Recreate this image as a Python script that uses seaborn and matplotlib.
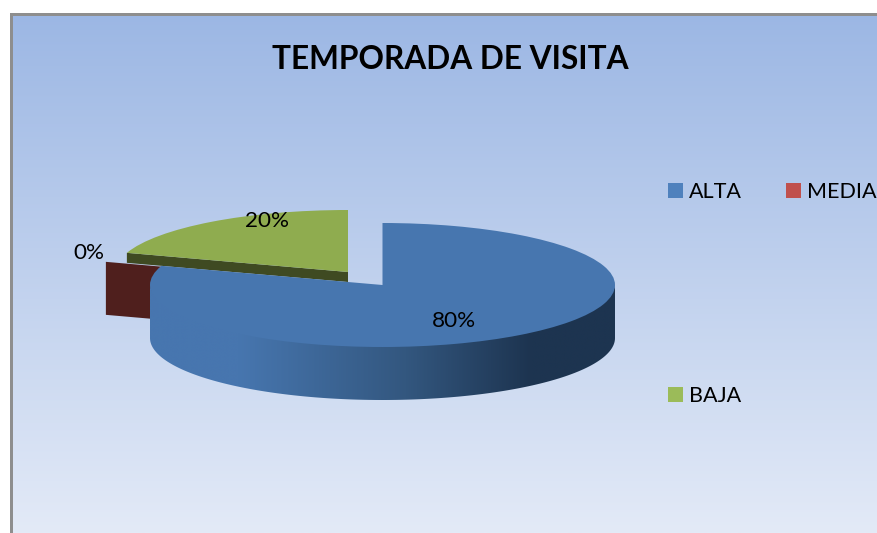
import numpy as np
import matplotlib
matplotlib.use("Agg")
import matplotlib.pyplot as plt
from matplotlib.colors import LinearSegmentedColormap
from matplotlib.patches import Patch, Polygon, Rectangle
import seaborn as sns

# ---- data ----
title = "TEMPORADA DE VISITA"
categories = ["ALTA", "MEDIA", "BAJA"]
values = [80, 0, 20]
legend_palette = ["#4F81BD", "#C0504D", "#9BBB59"]
top_colors = ["#4776AF", "#A5423F", "#8FAC4F"]
wall_colors = ["#4776AF", "#4F1F1D", "#3F4A22"]

sns.set_theme(style="white")
plt.rcParams["font.family"] = ["Lato", "DejaVu Sans"]

W, H = 877, 533
fig = plt.figure(figsize=(W / 100, H / 100), dpi=100, facecolor="white")

# chart-area gradient and frame
bg = fig.add_axes([10 / W, 0, (W - 10) / W, (H - 14) / H])
bg.imshow(np.linspace(0, 1, 256)[:, None], aspect="auto",
          cmap=LinearSegmentedColormap.from_list("bg", ["#9CB7E4", "#E3EAF7"]))
bg.axis("off")
fig.add_artist(Rectangle((10 / W, 0), 2.6 / W, (H - 13) / H, transform=fig.transFigure,
                         fc="#8E8E8E", ec="none"))
fig.add_artist(Rectangle((10 / W, (H - 15.5) / H), (W - 10) / W, 2.5 / H, transform=fig.transFigure,
                         fc="#8E8E8E", ec="none"))

# pie axes: one data unit = the ellipse radii, origin at the blue slice's apex
RX, RY, CX, CY = 232.5, 62.0, 382.5, 285.0
DEPTH_PX = 53.0
ax = fig.add_axes([0, 0, 1, 1], facecolor="none")


def px(x, y):
    return (x - CX) / RX, (CY - y) / RY


def end_angle():
    """Math angle of the boundary between ALTA and BAJA."""
    return np.deg2rad(90 - 360 * values[0] / sum(values))


def draw_slice(i, center, z):
    wedges, _ = ax.pie(values, colors=top_colors, startangle=90, counterclock=False,
                       center=center, radius=1, wedgeprops=dict(linewidth=0))
    for j, w in enumerate(wedges):
        if j == i:
            w.set_zorder(z)
        else:
            w.remove()


def radial_wall(i, center, depth_px, z):
    a = end_angle()
    d = depth_px / RY
    cx, cy = center
    ox, oy = cx + np.cos(a), cy + np.sin(a)
    ax.add_patch(Polygon([(ox, oy), (cx, cy), (cx, cy - d), (ox, oy - d)],
                         closed=True, fc=wall_colors[i], ec="none", zorder=z))


# MEDIA (0 %): only its exploded cut face shows
red_c = px(327, 281)
radial_wall(1, red_c, DEPTH_PX, 1)

# BAJA, exploded
green_c = px(348, 272)
radial_wall(2, green_c, 10, 2)
draw_slice(2, green_c, 3)

# ALTA outer wall with horizontal shading (starts slightly above the rim to hide the seam)
theta = np.linspace(0, -np.pi, 300)
upper = np.column_stack([np.cos(theta), np.sin(theta) + 0.03])
lower = np.column_stack([np.cos(theta), np.sin(theta)])[::-1] - [0, DEPTH_PX / RY]
wall = Polygon(np.vstack([upper, lower]), closed=True, fc="none", ec="none",
               transform=ax.transData, zorder=4)
ax.add_patch(wall)
shade = LinearSegmentedColormap.from_list(
    "wall", [(0, "#4776AF"), (0.19, "#4776AF"), (0.55, "#33577F"), (0.82, "#1D3450"), (1, "#1D3450")])
im = ax.imshow(np.linspace(0, 1, 512)[None, :], extent=(-1, 1, -2, 1), aspect="auto",
               cmap=shade, zorder=4, interpolation="bilinear")
im.set_clip_path(wall)
draw_slice(0, (0, 0), 5)

ax.set_aspect("auto")
ax.set_xlim(px(0, 0)[0], px(W, 0)[0])
ax.set_ylim(px(0, H)[1], px(0, 0)[1])
ax.axis("off")

# data labels
label_pos = [(454, 321), (89, 253), (267, 221)]
for v, (lx, ly) in zip(values, label_pos):
    x, y = px(lx, ly)
    ax.text(x, y, f"{v}%", ha="center", va="center", fontsize=16.2, color="black", zorder=10)

fig.text(450.5 / W, 1 - 59.5 / H, title, ha="center", va="center",
         fontsize=22.8, fontweight="bold", color="black")

# legends: first row holds two entries, the third sits lower
handles = [Patch(fc=c, ec="none", label=n) for c, n in zip(legend_palette, categories)]
leg_kw = dict(frameon=False, fontsize=15.5, handlelength=0.69, handleheight=0.69,
              handletextpad=0.28, borderpad=0, borderaxespad=0, labelcolor="black",
              loc="center left", bbox_transform=fig.transFigure)
l1 = ax.legend(handles=handles[:2], ncol=2, columnspacing=2.05,
               bbox_to_anchor=(668 / W, 1 - 192 / H), **leg_kw)
ax.add_artist(l1)
ax.legend(handles=handles[2:], bbox_to_anchor=(668 / W, 1 - 396 / H), **leg_kw)

fig.savefig("out.png", dpi=100, facecolor="white")
